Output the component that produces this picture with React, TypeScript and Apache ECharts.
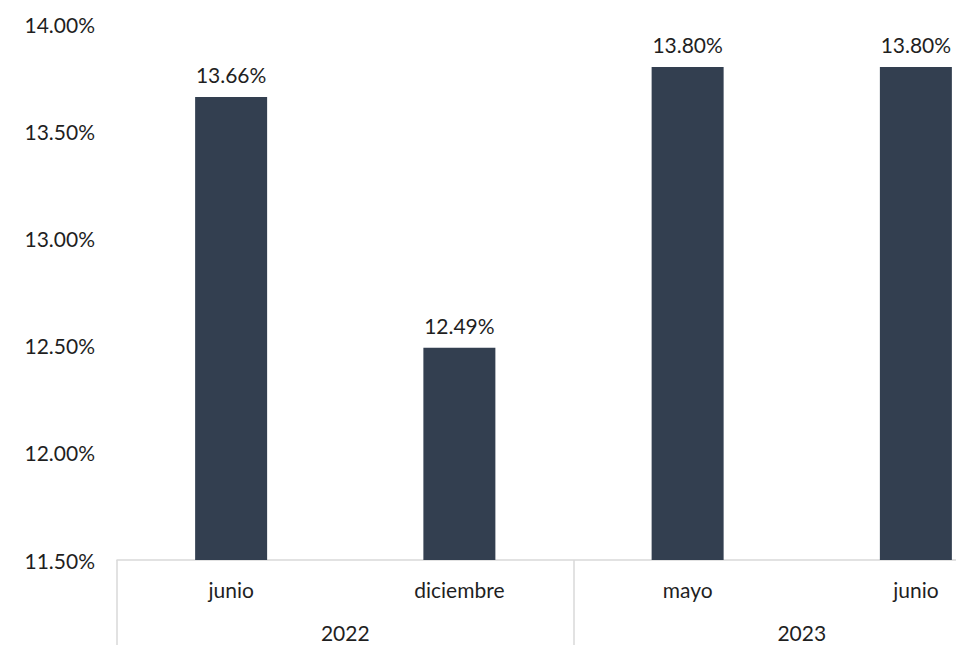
import React, { useEffect, useRef } from "react";
import * as echarts from "echarts";

const months = ["junio", "diciembre", "mayo", "junio"];
const years = ["2022", "2023"];
const values = [13.66, 12.49, 13.8, 13.8];
const yMin = 11.5;
const yMax = 14.0;
const yInterval = 0.5;

const FONT = "Lato";
const FS = 21;
const TEXT = "#1f1f1f";
const GRIDLINE = "#d9d9d9";

export default function App() {
  const ref = useRef<HTMLDivElement>(null);
  useEffect(() => {
    if (!ref.current) return;
    const chart = echarts.init(ref.current, undefined, { renderer: "svg" });
    chart.setOption({
      animation: false,
      textStyle: { fontFamily: FONT },
      grid: { left: 117, right: 10, top: 24, bottom: 85, containLabel: false },
      xAxis: [
        {
          type: "category",
          data: months,
          position: "bottom",
          axisLine: { show: true, lineStyle: { color: GRIDLINE, width: 1.5 } },
          axisTick: { show: false },
          axisLabel: { margin: 19, fontSize: FS, color: TEXT, fontFamily: FONT },
          splitLine: { show: false },
        },
        {
          type: "category",
          data: years,
          position: "bottom",
          axisLine: { show: false },
          axisTick: { show: true, length: 90, lineStyle: { color: GRIDLINE, width: 1.5 } },
          axisLabel: { margin: 62, fontSize: FS, color: TEXT, fontFamily: FONT },
          splitLine: { show: false },
        },
      ],
      yAxis: {
        type: "value",
        min: yMin,
        max: yMax,
        interval: yInterval,
        axisLine: { show: false },
        axisTick: { show: false },
        splitLine: { show: false },
        axisLabel: {
          margin: 22,
          fontSize: FS,
          color: TEXT,
          fontFamily: FONT,
          formatter: (v: number) => v.toFixed(2) + "%",
        },
      },
      series: [
        {
          type: "bar",
          xAxisIndex: 0,
          data: values,
          barWidth: 72,
          itemStyle: { color: "#333F50" },
          label: {
            show: true,
            position: "top",
            distance: 12,
            fontSize: FS,
            color: TEXT,
            fontFamily: FONT,
            formatter: (p: any) => Number(p.value).toFixed(2) + "%",
          },
        },
      ],
    });
    return () => chart.dispose();
  }, []);
  return (
    <div style={{ position: "absolute", left: 0, top: 0, width: 956, height: 645, overflow: "hidden", background: "#fff" }}>
      <div ref={ref} style={{ width: 1040, height: 645 }} />
    </div>
  );
}
